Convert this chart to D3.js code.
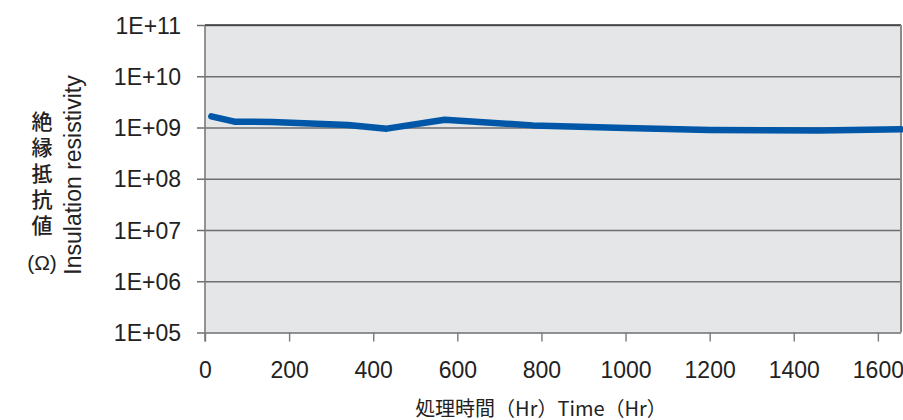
<!DOCTYPE html>
<html>
<head>
<meta charset="utf-8">
<script src="https://cdn.jsdelivr.net/npm/d3@7/dist/d3.min.js"></script>
<style>
  html, body { margin: 0; padding: 0; background: #fff; }
  svg { display: block; }
  text { font-family: "Liberation Sans", Arial, Helvetica, sans-serif; fill: #222; }
</style>
</head>
<body>
<svg id="chart" width="903" height="420"></svg>
<script>
// Insulation resistance over treatment time
const hours  = [15, 70, 160, 340, 432, 570, 780, 1000, 1200, 1460, 1655];
const ohms   = [1.65e9, 1.30e9, 1.28e9, 1.12e9, 0.95e9, 1.42e9, 1.10e9, 0.98e9, 0.89e9, 0.87e9, 0.92e9];
const xTicks = [0, 200, 400, 600, 800, 1000, 1200, 1400, 1600];
const yTicks = [1e5, 1e6, 1e7, 1e8, 1e9, 1e10, 1e11];
const yTickLabels = ["1E+05", "1E+06", "1E+07", "1E+08", "1E+09", "1E+10", "1E+11"];
const yTitleJa = "絶縁抵抗値";
const yTitleUnit = "(Ω)";
const yTitleEn = "Insulation resistivity";
const xTitle = "処理時間（Hr）Time（Hr）";

const svg = d3.select("#chart");
const plot = { left: 205, right: 901, top: 25, bottom: 332.5 };

const x = d3.scaleLinear().domain([0, 1655]).range([plot.left, plot.right]);
const y = d3.scaleLog().domain([1e5, 1e11]).range([plot.bottom, plot.top]);

// plot background
svg.append("rect")
  .attr("x", plot.left).attr("y", plot.top)
  .attr("width", plot.right - plot.left).attr("height", plot.bottom - plot.top)
  .attr("fill", "#e5e6e8");

// horizontal gridlines with stubs left of the axis
const yAxis = d3.axisLeft(y)
  .tickValues(yTicks)
  .tickFormat((d, i) => yTickLabels[i])
  .tickSize(0)
  .tickPadding(16);
const gy = svg.append("g")
  .attr("transform", `translate(${plot.left - 8},0)`)
  .call(yAxis);
gy.select(".domain").remove();
gy.selectAll(".tick line")
  .attr("x1", 0).attr("x2", plot.right - plot.left + 8)
  .attr("stroke", "#6e6e6e").attr("stroke-width", 1.4);
gy.selectAll(".tick text")
  .attr("x", -16)
  .attr("dy", "0.35em")
  .style("font-size", "23px")
  .attr("fill", "#1e1e1e");

// x axis ticks below plot
const xAxis = d3.axisBottom(x)
  .tickValues(xTicks)
  .tickFormat(d3.format("d"))
  .tickSize(9)
  .tickPadding(20);
const gx = svg.append("g")
  .attr("transform", `translate(0,${plot.bottom})`)
  .call(xAxis);
gx.select(".domain").remove();
gx.selectAll(".tick line").attr("stroke", "#7a7a7a").attr("stroke-width", 1.4);
gx.selectAll(".tick text")
  .style("font-size", "23px")
  .attr("fill", "#1e1e1e");

// plot frame
svg.append("line").attr("x1", plot.left).attr("x2", plot.left)
  .attr("y1", plot.top).attr("y2", plot.bottom + 9)
  .attr("stroke", "#7a7a7a").attr("stroke-width", 1.6);
svg.append("line").attr("x1", plot.left).attr("x2", plot.right)
  .attr("y1", plot.top).attr("y2", plot.top)
  .attr("stroke", "#3a3a3a").attr("stroke-width", 1.6);
svg.append("line").attr("x1", plot.right).attr("x2", plot.right)
  .attr("y1", plot.top).attr("y2", plot.bottom)
  .attr("stroke", "#8a8a8a").attr("stroke-width", 2);

// data line
const line = d3.line().x((d, i) => x(hours[i])).y(d => y(d));
svg.append("path")
  .datum(ohms)
  .attr("d", line)
  .attr("fill", "none")
  .attr("stroke", "#0057a8")
  .attr("stroke-width", 6.5)
  .attr("stroke-linecap", "round")
  .attr("stroke-linejoin", "round");

// axis titles
svg.append("text")
  .attr("transform", "translate(81,175) rotate(-90)")
  .attr("text-anchor", "middle")
  .style("font-size", "23px")
  .attr("fill", "#1e1e1e")
  .text(yTitleEn);

// Japanese title, stacked vertically
svg.append("text")
  .attr("x", 42).attr("y", 111)
  .style("writing-mode", "vertical-rl")
  .style("font-family", "'Noto Sans CJK JP', sans-serif")
  .style("font-size", "21px")
  .style("font-weight", 500)
  .style("letter-spacing", "5px")
  .attr("fill", "#1e1e1e")
  .text(yTitleJa);
svg.append("text")
  .attr("x", 42).attr("y", 270)
  .attr("text-anchor", "middle")
  .style("font-size", "21px")
  .attr("fill", "#1e1e1e")
  .text(yTitleUnit);

svg.append("text")
  .attr("x", 541).attr("y", 416)
  .attr("text-anchor", "middle")
  .style("font-family", "'Noto Sans CJK JP', sans-serif")
  .style("font-size", "20px")
  .attr("fill", "#1e1e1e")
  .text(xTitle);
</script>
</body>
</html>
